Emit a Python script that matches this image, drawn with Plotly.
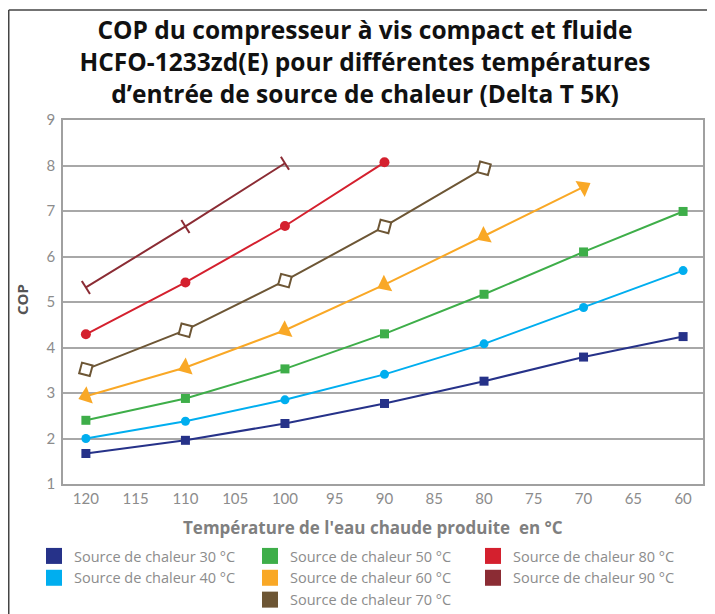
import plotly.graph_objects as go

# ---- data ----
temperatures = [120, 110, 100, 90, 80, 70, 60]
cop_30 = [1.67, 1.96, 2.33, 2.77, 3.26, 3.79, 4.24]
cop_40 = [2.00, 2.38, 2.85, 3.41, 4.08, 4.88, 5.69]
cop_50 = [2.40, 2.88, 3.53, 4.30, 5.17, 6.10, 6.99]
cop_60 = [2.93, 3.56, 4.38, 5.38, 6.45, 7.53]
cop_70 = [3.52, 4.38, 5.47, 6.66, 7.94]
cop_80 = [4.29, 5.43, 6.67, 8.07]
cop_90 = [5.32, 6.66, 8.05]
series_names = [
    "Source de chaleur 30 °C", "Source de chaleur 40 °C", "Source de chaleur 50 °C",
    "Source de chaleur 60 °C", "Source de chaleur 70 °C", "Source de chaleur 80 °C",
    "Source de chaleur 90 °C",
]
x_ticks = [120, 115, 110, 105, 100, 95, 90, 85, 80, 75, 70, 65, 60]
y_ticks = [1, 2, 3, 4, 5, 6, 7, 8, 9]
title_text = ("COP du compresseur à vis compact et fluide<br>"
              "HCFO-1233zd(E) pour différentes températures<br>"
              "d’entrée de source de chaleur (Delta T 5K)")
x_title = "Température de l'eau chaude produite  en °C"
y_title = "COP"

# ---- styles ----
colors = ["#263289", "#00AEEF", "#3EAE49", "#F9A826", "#6D5635", "#D4202E", "#8B2C34"]
series_values = [cop_30, cop_40, cop_50, cop_60, cop_70, cop_80, cop_90]
markers = [
    dict(symbol="square", size=9),
    dict(symbol="circle", size=9),
    dict(symbol="square", size=9),
    dict(symbol="triangle-up", size=16, angle=[250, 248, 245, 243, 243, 60]),
    dict(symbol="square", size=11, angle=15, color="white", line=dict(width=2)),
    dict(symbol="circle", size=10),
    dict(symbol="line-ns", size=11, angle=-32, line=dict(width=2)),
]
legend_of = ["legend", "legend", "legend2", "legend2", "legend2", "legend3", "legend3"]

# page body has an 8px margin: figure is drawn at (8, 8)
W, H = 707, 606
L, T, PW, PH = 55, 112, 640, 364

fig = go.Figure()
for name, vals, col, mk in zip(series_names, series_values, colors, markers):
    m = dict(color=col)
    m.update(mk)
    if "line" in m:
        m["line"] = dict(m["line"], color=col)
    fig.add_trace(go.Scatter(
        x=temperatures[:len(vals)], y=vals, mode="lines+markers", name=name,
        line=dict(color=col, width=2), marker=m, showlegend=False,
        cliponaxis=False,
    ))

# legend swatches
for name, col, lg in zip(series_names, colors, legend_of):
    fig.add_trace(go.Scatter(
        x=[None], y=[None], mode="markers", name=name,
        marker=dict(symbol="square", size=16, color=col),
        legend=lg, showlegend=True,
    ))

leg_font = dict(family="Open Sans, sans-serif", size=14.5, color="#8c8c8c")
common_leg = dict(font=leg_font, xref="container", yref="container", yanchor="top",
                  xanchor="left", bgcolor="rgba(0,0,0,0)", tracegroupgap=0,
                  itemclick=False)
leg_top = 1 - 532 / H

def px_x(p):
    return (p - L) / PW

def px_y(p):
    return (T + PH - p) / PH

fig.update_layout(
    width=W, height=H,
    margin=dict(l=L, r=W - L - PW, t=T, b=H - T - PH, autoexpand=False),
    paper_bgcolor="white", plot_bgcolor="white",
    title=dict(
        text=title_text,
        x=357 / W, xanchor="center", y=1 - 31 / H, yanchor="top",
        font=dict(family="Open Sans, sans-serif", size=24.5, color="#111111", weight="bold"),
    ),
    xaxis=dict(
        range=[122.3, 58], tickvals=x_ticks, ticktext=[str(t) for t in x_ticks],
        showgrid=False, zeroline=False, showline=True, linecolor="#a0a0a0", linewidth=1.5,
        mirror=True, ticks="", tickfont=dict(family="Lato, sans-serif", size=15, color="#8c8c8c"),
    ),
    yaxis=dict(
        range=[1, 9], tickvals=y_ticks, showgrid=True, gridcolor="#a8a8a8", gridwidth=1.5,
        zeroline=False, showline=True, linecolor="#a0a0a0", linewidth=1.5, mirror=True,
        ticks="outside", ticklen=3, tickcolor="rgba(0,0,0,0)",
        tickfont=dict(family="Lato, sans-serif", size=15, color="#8c8c8c"),
    ),
    annotations=[
        dict(text=x_title, xref="paper", yref="paper", x=px_x(365), y=px_y(519),
             xanchor="center", yanchor="middle", showarrow=False,
             font=dict(family="Open Sans, sans-serif", size=17, color="#7f7f7f", weight="bold")),
        dict(text=y_title, xref="paper", yref="paper", x=px_x(14), y=px_y(292),
             xanchor="center", yanchor="middle", showarrow=False, textangle=-90,
             font=dict(family="Open Sans, sans-serif", size=15, color="#555555", weight="bold")),
    ],
    legend=dict(x=26 / W, y=leg_top, **common_leg),
    legend2=dict(x=242 / W, y=leg_top, **common_leg),
    legend3=dict(x=465 / W, y=leg_top, **common_leg),
    shapes=[
        dict(type="line", xref="paper", yref="paper", x0=px_x(0.75), x1=px_x(W),
             y0=px_y(2), y1=px_y(2), line=dict(color="#444444", width=1.5)),
        dict(type="line", xref="paper", yref="paper", x0=px_x(0.75), x1=px_x(0.75),
             y0=px_y(2), y1=px_y(H), line=dict(color="#444444", width=1.5)),
    ],
)

fig.write_html("out.html")
